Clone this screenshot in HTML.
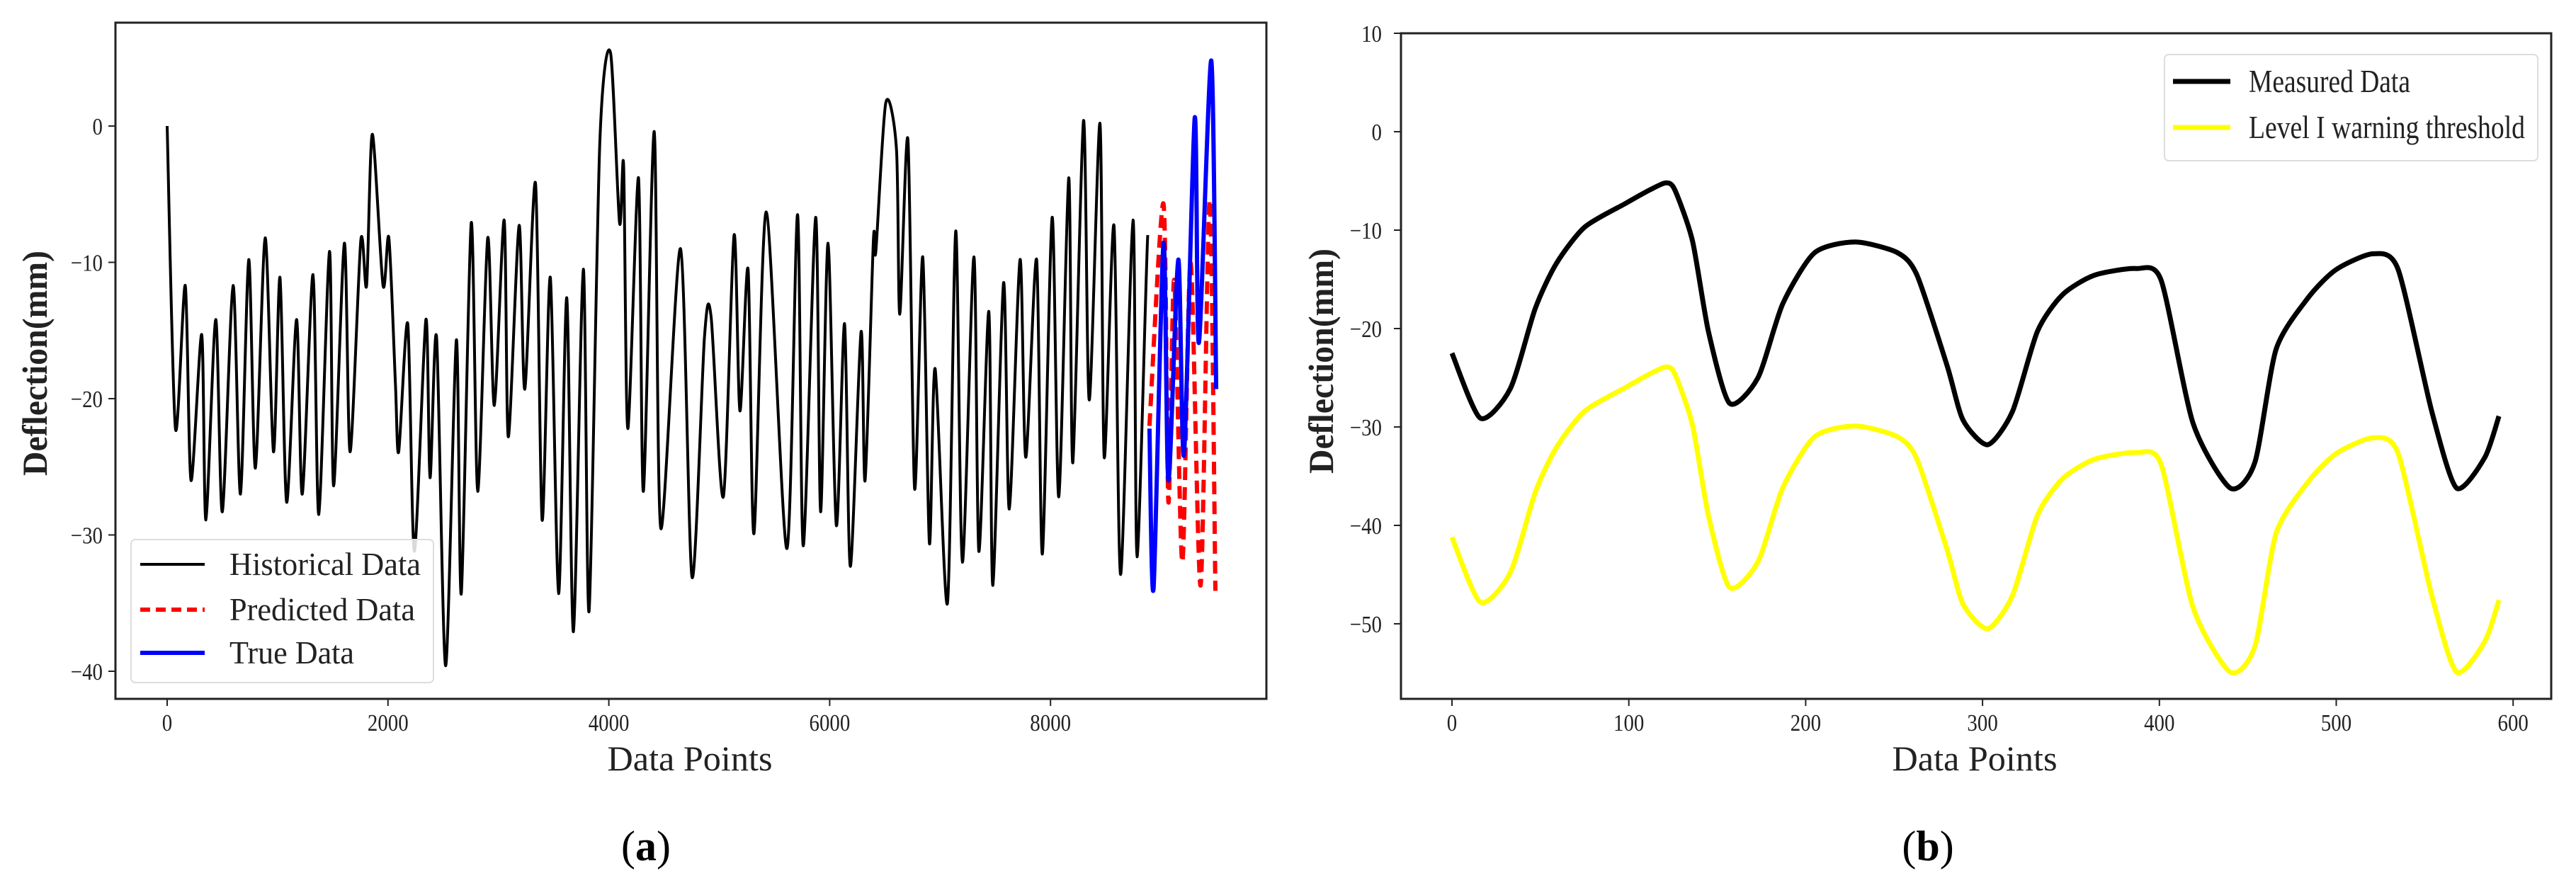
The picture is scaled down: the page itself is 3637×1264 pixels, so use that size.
<!DOCTYPE html>
<html><head><meta charset="utf-8"><style>
html,body{margin:0;padding:0;background:#fff;}
svg{display:block;font-family:"Liberation Serif",serif;}
</style></head><body>
<svg id="fig" width="3637" height="1264" viewBox="0 0 3637 1264" xmlns="http://www.w3.org/2000/svg">
<rect x="0" y="0" width="3637" height="1264" fill="#fff"/>
<g id="pa"></g>
<g id="pb"></g>
</svg>
<script>
// ---------- Panel (a) data ----------
const histX=[0,75,164,216,313,351,440,500,597,664,739,799,888,963,1022,1082,1172,1224,1321,1373,1470,1508,1605,1657,1754,1806,1858,1955,2008,2067,2097,2179,2239,2343,2381,2440,2522,2619,2664,2754,2813,2903,2963,3052,3090,3187,3239,3336,3396,3470,3545,3619,3679,3769,3821,3918,4015,4097,4134,4172,4269,4313,4411,4470,4649,4754,4866,4926,5037,5134,5187,5261,5314,5426,5612,5709,5761,5873,5918,5985,6060,6135,6187,6284,6321,6396,6418,6508,6605,6635,6709,6769,6843,6903,6955,7067,7142,7202,7306,7351,7441,7478,7575,7627,7724,7776,7874,7926,8015,8075,8165,8202,8299,8351,8448,8486,8575,8635,8747,8784,8881];
const histY=[0,-22.2,-11.7,-26,-15.3,-28.9,-14.2,-28.3,-11.7,-27,-9.8,-25.1,-8.2,-23.9,-11.1,-27.6,-14.2,-27,-10.9,-28.5,-9.2,-26.4,-8.6,-23.9,-8.4,-11.7,-0.6,-11.7,-8.2,-18.8,-23.9,-14.5,-31.2,-14.2,-25.8,-15.5,-39.6,-15.7,-34.3,-7.1,-26.8,-8.2,-20.5,-6.9,-22.8,-7.3,-19.3,-4.2,-28.9,-11.1,-34.3,-12.6,-37.1,-10.5,-35.6,-1.3,5.4,-7.1,-2.9,-22.2,-3.8,-26.8,-0.4,-29.5,-9,-33.1,-15.5,-14,-27.2,-8,-20.9,-10.5,-29.9,-6.3,-31,-6.5,-30.8,-6.7,-28.3,-8.6,-29.3,-14.5,-32.3,-15.1,-26,-8.4,-9.2,1.7,-1.7,-13.8,-1,-26.6,-9.6,-30.6,-17.8,-35,-7.7,-32,-9.6,-31.2,-13.6,-33.7,-11.5,-28.1,-9.8,-24.3,-9.8,-31.4,-6.7,-27.2,-3.8,-24.7,0.4,-20.1,0.2,-24.3,-7.3,-32.9,-6.9,-31.6,-8,-22.2];
const trueX=[8896,8933,9023,9068,9157,9209,9306,9344,9456,9500];
const trueY=[-22.2,-33.9,-8.6,-26,-9.8,-24.1,0.6,-15.9,4.8,-19.3];
const predX=[8896,9023,9068,9120,9194,9269,9359,9441,9493];
const predY=[-22,-5.7,-27.6,-11.3,-32,-10,-33.7,-5.4,-34.1];
const aXTicks=[0,2000,4000,6000,8000];
const aYTicks=[0,-10,-20,-30,-40];
// ---------- Panel (b) data ----------
const measX=[0,16,33,47,59,75,98,112,121,126,136,145,157,173,187,205,228,252,263,280,289,303,317,331,345,363,387,401,419,440,454,466,484,500,521,535,554,568,584,592];
const measY=[-22.5,-29.1,-26.1,-18,-13.4,-9.7,-7.3,-5.9,-5.2,-5.9,-11.1,-20.3,-27.6,-25,-17.5,-12.3,-11.2,-12.3,-14.6,-23.8,-29.3,-31.8,-28.4,-20.3,-16.6,-14.6,-13.9,-15.1,-29.6,-36.2,-33.6,-22.1,-16.9,-14,-12.4,-14,-28.4,-36.2,-33.1,-28.9];
const warnY=[-41.2,-47.8,-44.8,-36.7,-32.1,-28.4,-26,-24.6,-23.9,-24.6,-29.8,-39,-46.3,-43.7,-36.2,-31,-29.9,-31,-33.3,-42.5,-48,-50.5,-47.1,-39,-35.3,-33.3,-32.6,-33.8,-48.3,-54.9,-52.3,-40.8,-35.6,-32.7,-31.1,-32.7,-47.1,-54.9,-51.8,-47.6];
const bXTicks=[0,100,200,300,400,500,600];
const bYTicks=[10,0,-10,-20,-30,-40,-50];

const NS="http://www.w3.org/2000/svg";
function mk(parent,tag,attrs,text){const e=document.createElementNS(NS,tag);for(const k in attrs)e.setAttribute(k,attrs[k]);if(text!==undefined)e.textContent=text;parent.appendChild(e);return e;}
function smoothPath(px,py,t){
  let d="M"+px[0].toFixed(1)+","+py[0].toFixed(1);
  for(let i=0;i<px.length-1;i++){
    const x0=px[Math.max(i-1,0)],y0=py[Math.max(i-1,0)],x1=px[i],y1=py[i],x2=px[i+1],y2=py[i+1],x3=px[Math.min(i+2,px.length-1)],y3=py[Math.min(i+2,py.length-1)];
    d+=" C"+(x1+(x2-x0)*t).toFixed(1)+","+(y1+(y2-y0)*t).toFixed(1)+" "+(x2-(x3-x1)*t).toFixed(1)+","+(y2-(y3-y1)*t).toFixed(1)+" "+x2.toFixed(1)+","+y2.toFixed(1);
  }
  return d;
}

// ---------- Panel (a) ----------
(function(){
  const g=document.getElementById('pa');
  const L=163,R=1788,T=32,B=987;
  const sx=v=>236+v*0.1559;
  const sy=v=>178-v*19.25;
  const clip=mk(g,'clipPath',{id:'ca'});mk(clip,'rect',{x:L,y:T,width:R-L,height:B-T});
  const lines=mk(g,'g',{'clip-path':'url(#ca)'});
  const h=mk(lines,'path',{d:smoothPath(histX.map(sx),histY.map(sy),0.14),fill:'none',stroke:'#000','stroke-width':4,'stroke-linejoin':'round'});
  
  
  const p=mk(lines,'path',{d:smoothPath(predX.map(sx),predY.map(sy),0.14),fill:'none',stroke:'#f00','stroke-width':6,'stroke-dasharray':'18 10'});
  
  
  const t=mk(lines,'path',{d:smoothPath(trueX.map(sx),trueY.map(sy),0.14),fill:'none',stroke:'#00f','stroke-width':6,'stroke-linejoin':'round'});
  
  
  const fr=mk(g,'rect',{x:L,y:T,width:R-L,height:B-T,fill:'none',stroke:'#222','stroke-width':3});
  
  
  aXTicks.forEach(v=>{const x=sx(v);mk(g,'line',{x1:x,y1:B,x2:x,y2:B+10,stroke:'#222','stroke-width':2});
    const tx=mk(g,'text',{x:x,y:1032,'font-size':34,'text-anchor':'middle',fill:'#222',transform:'translate('+x+',0) scale(0.85,1) translate('+(-x)+',0)'},String(v));
    
    });
  aYTicks.forEach(v=>{const y=sy(v);mk(g,'line',{x1:L-10,y1:y,x2:L,y2:y,stroke:'#222','stroke-width':2});
    const tx=mk(g,'text',{x:145,y:y+12,'font-size':34,'text-anchor':'end',fill:'#222',transform:'translate(145,0) scale(0.85,1) translate(-145,0)'},(v<0?'\u2212':'')+Math.abs(v));
    
    });
  const yt=mk(g,'text',{x:0,y:0,'font-size':50,'text-anchor':'middle',fill:'#222','font-weight':'bold',transform:'translate(66,513) rotate(-90)',textLength:318,lengthAdjust:'spacingAndGlyphs'},'Deflection(mm)');
  
  
  const xt=mk(g,'text',{x:974,y:1088,'font-size':50,'text-anchor':'middle',fill:'#222',textLength:233,lengthAdjust:'spacingAndGlyphs'},'Data Points');
  
  
  const lg=mk(g,'g',{});
  
  
  mk(lg,'rect',{x:185,y:762,width:427,height:202,rx:6,fill:'#fff','fill-opacity':0.85,stroke:'#ddd','stroke-width':2});
  const ent=[['Historical Data','#000',4,null,797,270],['Predicted Data','#f00',6,'14 8',861,262],['True Data','#00f',6,null,922,176]];
  ent.forEach(e=>{const ge=mk(lg,'g',{});
    
    
    const a={x1:198,y1:e[4],x2:289,y2:e[4],stroke:e[1],'stroke-width':e[2]};if(e[3])a['stroke-dasharray']=e[3];mk(ge,'line',a);
    mk(ge,'text',{x:324,y:e[4]+15,'font-size':46,fill:'#222',textLength:e[5],lengthAdjust:'spacingAndGlyphs'},e[0]);});
  const cap=mk(g,'text',{x:912,y:1215,'font-size':60,'text-anchor':'middle',fill:'#000'},'');
  
  
  mk(cap,'tspan',{},'(');mk(cap,'tspan',{'font-weight':'bold'},'a');mk(cap,'tspan',{},')');
})();

// ---------- Panel (b) ----------
(function(){
  const g=document.getElementById('pb');
  const L=1978,R=3602,T=47,B=987;
  const sx=v=>2050+v*2.497;
  const sy=v=>186-v*13.9;
  const m=mk(g,'path',{d:smoothPath(measX.map(sx),measY.map(sy),0.12),fill:'none',stroke:'#000','stroke-width':7,'stroke-linejoin':'round'});
  
  
  const w=mk(g,'path',{d:smoothPath(measX.map(sx),warnY.map(sy),0.12),fill:'none',stroke:'#ffff00','stroke-width':7,'stroke-linejoin':'round'});
  
  
  const fr=mk(g,'rect',{x:L,y:T,width:R-L,height:B-T,fill:'none',stroke:'#222','stroke-width':3});
  
  
  bXTicks.forEach(v=>{const x=sx(v);mk(g,'line',{x1:x,y1:B,x2:x,y2:B+10,stroke:'#222','stroke-width':2});
    const tx=mk(g,'text',{x:x,y:1032,'font-size':34,'text-anchor':'middle',fill:'#222',transform:'translate('+x+',0) scale(0.85,1) translate('+(-x)+',0)'},String(v));
    
    });
  bYTicks.forEach(v=>{const y=sy(v);mk(g,'line',{x1:L-10,y1:y,x2:L,y2:y,stroke:'#222','stroke-width':2});
    const tx=mk(g,'text',{x:1951,y:y+12,'font-size':34,'text-anchor':'end',fill:'#222',transform:'translate(1951,0) scale(0.85,1) translate(-1951,0)'},(v<0?'\u2212':'')+Math.abs(v));
    
    });
  const yt=mk(g,'text',{x:0,y:0,'font-size':50,'text-anchor':'middle',fill:'#222','font-weight':'bold',transform:'translate(1882,510) rotate(-90)',textLength:318,lengthAdjust:'spacingAndGlyphs'},'Deflection(mm)');
  
  
  const xt=mk(g,'text',{x:2788,y:1088,'font-size':50,'text-anchor':'middle',fill:'#222',textLength:233,lengthAdjust:'spacingAndGlyphs'},'Data Points');
  
  
  const lg=mk(g,'g',{});
  
  
  mk(lg,'rect',{x:3056,y:77,width:527,height:150,rx:6,fill:'#fff',stroke:'#ddd','stroke-width':2});
  [['Measured Data','#000',115,228],['Level I warning threshold','#ffff00',180,390]].forEach(e=>{const ge=mk(lg,'g',{});
    
    
    mk(ge,'line',{x1:3068,y1:e[2],x2:3149,y2:e[2],stroke:e[1],'stroke-width':7});
    mk(ge,'text',{x:3175,y:e[2]+15,'font-size':45,fill:'#222',textLength:e[3],lengthAdjust:'spacingAndGlyphs'},e[0]);});
  const cap=mk(g,'text',{x:2722,y:1215,'font-size':60,'text-anchor':'middle',fill:'#000'},'');
  
  
  mk(cap,'tspan',{},'(');mk(cap,'tspan',{'font-weight':'bold'},'b');mk(cap,'tspan',{},')');
})();
</script>
</body></html>
